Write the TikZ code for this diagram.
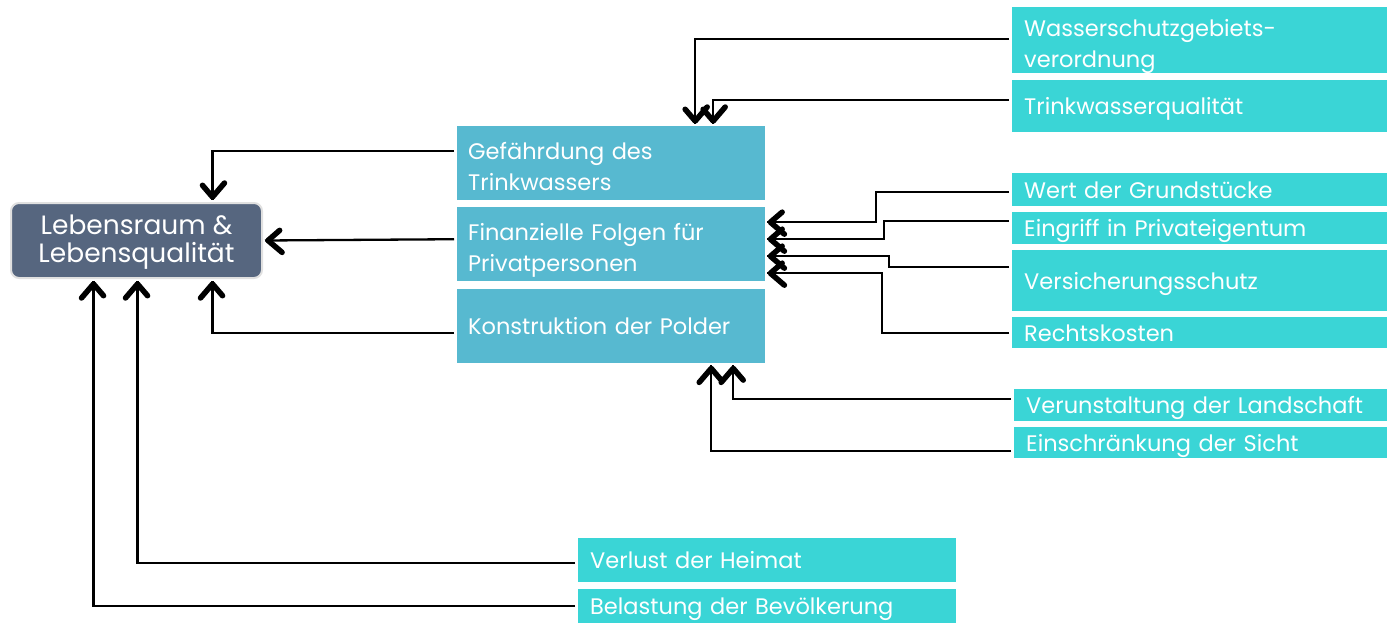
\documentclass[tikz,border=0pt]{standalone}
\usepackage{fontspec}
\setmainfont{Poppins}
\usetikzlibrary{positioning,decorations.markings}
\definecolor{midc}{HTML}{57B9D0}
\definecolor{rightc}{HTML}{3AD5D6}
\definecolor{lebc}{HTML}{56667F}
\begin{document}
\begin{tikzpicture}[x=1pt,y=-1pt,
  txt/.style={font=\fontsize{22.5}{31}\selectfont, text=white},
  midbox/.style={txt, fill=midc, anchor=north west, minimum width=308pt, text width=286pt, inner xsep=11pt, inner ysep=0pt, align=left},
  rbox/.style={txt, fill=rightc, anchor=north west, text width=351pt, inner xsep=12pt, inner ysep=0pt, align=left},
  lbox/.style={txt, fill=rightc, anchor=north west, minimum width=378pt, text width=354pt, inner xsep=12pt, inner ysep=0pt, align=left},
  oneline/.style={text depth=-3pt},
  twoline/.style={text depth=25pt},
  chev/.style={draw=black, line width=5.5pt, line cap=round, line join=round},
  arr/.style={draw=black, line width=2.3pt, shorten <=3pt, postaction={decorate},
    decoration={markings, mark=at position 1 with {\draw[chev] (-17pt,-12pt) -- (-3pt,0pt) -- (-17pt,12pt);}}}
]
\useasboundingbox (0,0) rectangle (1387,623);

% central node
\node[txt, font=\fontsize{26.5}{28}\selectfont, fill=lebc, draw=black!12, line width=2pt, rounded corners=8pt,
      minimum width=251pt, minimum height=75pt, anchor=north west, align=center, text depth=4pt] (leb) at (10,202)
      {Lebensraum \&\\Lebensqualität};

% middle nodes
\node[midbox, twoline, minimum height=74pt] (gef) at (457,126) {Gefährdung des\\Trinkwassers};
\node[midbox, twoline, minimum height=74pt] (fin) at (457,207) {Finanzielle Folgen für\\Privatpersonen};
\node[midbox, oneline, minimum height=74pt] (kon) at (457,289) {Konstruktion der Polder};

% right nodes
\node[rbox, twoline, minimum height=66pt] (wss) at (1012,7) {Wasserschutzgebiets-\\verordnung};
\node[rbox, oneline, minimum height=52pt] (trw) at (1012,80) {Trinkwasserqualität};
\node[rbox, oneline, minimum height=33pt] (wert) at (1012,173) {Wert der Grundstücke};
\node[rbox, oneline, minimum height=32pt] (ein) at (1012,212) {Eingriff in Privateigentum};
\node[rbox, oneline, minimum height=61pt] (vers) at (1012,250) {Versicherungsschutz};
\node[rbox, oneline, minimum height=31pt] (recht) at (1012,317) {Rechtskosten};
\node[rbox, oneline, minimum height=32pt] (verun) at (1014,389) {Verunstaltung der Landschaft};
\node[rbox, oneline, minimum height=31pt] (sicht) at (1014,427) {Einschränkung der Sicht};

% bottom nodes
\node[lbox, oneline, minimum height=44pt] (heim) at (578,538) {Verlust der Heimat};
\node[lbox, oneline, minimum height=34pt] (bel) at (578,589) {Belastung der Bevölkerung};

% connectors to Gefährdung
\draw[arr] ([yshift=1pt]wss.west) -| ([xshift=84pt,yshift=2pt]gef.north);
\draw[arr] ([yshift=6pt]trw.west) -| ([xshift=102pt,yshift=2pt]gef.north);

% connectors to Finanzielle Folgen
\draw[arr] ([yshift=-2pt]wert.west) -- ++(-136,0) |- ([yshift=22pt,xshift=2pt]fin.east);
\draw[arr] ([yshift=7pt]ein.west) -- ++(-128,0) |- ([yshift=5pt,xshift=2pt]fin.east);
\draw[arr] ([yshift=14pt]vers.west) -- ++(-123,0) |- ([yshift=-12pt,xshift=2pt]fin.east);
\draw[arr] ([yshift=0pt]recht.west) -- ++(-130,0) |- ([yshift=-29pt,xshift=2pt]fin.east);

% connectors to Konstruktion
\draw[arr] ([yshift=6pt]verun.west) -| ([xshift=122pt,yshift=-2pt]kon.south);
\draw[arr] ([yshift=-8pt]sicht.west) -| ([xshift=100pt,yshift=-2pt]kon.south);

% connectors to Lebensraum
\draw[arr] ([yshift=12pt]gef.west) -| ([xshift=76pt,yshift=2pt]leb.north);
\draw[arr] ([yshift=5pt]fin.west) -- ([yshift=0pt,xshift=2pt]leb.east);
\draw[arr] ([yshift=-7pt]kon.west) -| ([xshift=76pt,yshift=-2pt]leb.south);
\draw[arr] ([yshift=-3pt]heim.west) -| ([xshift=1pt,yshift=-2pt]leb.south);
\draw[arr] (bel.west) -| ([xshift=-43pt,yshift=-2pt]leb.south);
\end{tikzpicture}
\end{document}
